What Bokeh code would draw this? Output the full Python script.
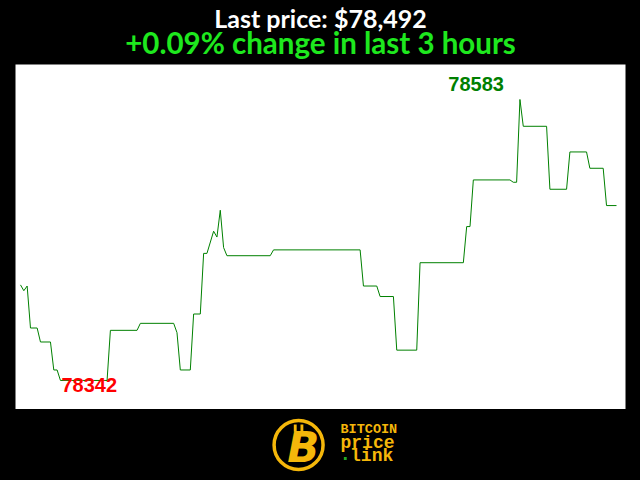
from bokeh.plotting import figure
from bokeh.layouts import column
from bokeh.models import Range1d
from bokeh.core.properties import value
from bokeh.embed import file_html
from bokeh.resources import INLINE

# ---- data (minutes into the 3-hour window, price in USD) ----
minutes = [0, 1, 2, 3, 5, 6, 9, 10, 11, 12, 26, 27, 35, 36, 46, 47, 48, 51, 52, 54,
           55, 56, 58, 59, 60, 61, 62, 75, 76, 102, 103, 107, 108, 112, 113, 119, 120, 133, 134, 135,
           136, 147, 148, 149, 150, 151, 158, 159, 164, 165, 170, 171, 175, 176, 179]
prices = [78424, 78419, 78423, 78387, 78387, 78375, 78375, 78351, 78351, 78342,
          78342, 78385, 78385, 78391, 78391, 78383, 78351, 78351, 78399, 78399,
          78451, 78451, 78470, 78465, 78488, 78456, 78449, 78449, 78454, 78454,
          78423, 78423, 78414, 78414, 78368, 78368, 78443, 78443, 78474, 78474,
          78514, 78514, 78512, 78512, 78583, 78560, 78560, 78506, 78506, 78538,
          78538, 78524, 78524, 78492, 78492]

last_price = prices[-1]
change_pct = (prices[-1] - prices[0]) / prices[0] * 100
title_line1 = "Last price: ${:,}".format(last_price)
title_line2 = "{:+.2f}% change in last 3 hours".format(change_pct)

hi = max(prices)
lo = min(prices)
hi_t = minutes[prices.index(hi)]
lo_t = minutes[prices.index(lo)]

W = 640

def bare(fig):
    fig.axis.visible = False
    fig.grid.visible = False
    fig.outline_line_color = None
    fig.background_fill_color = "black"
    fig.border_fill_color = "black"
    fig.min_border = 0
    return fig

# ---- title block ----
pt = figure(width=W, height=64, x_range=Range1d(0, W), y_range=Range1d(64, 0),
            output_backend="svg", toolbar_location=None)
bare(pt)
pt.text(x=[W / 2], y=[17], text=[title_line1], text_color="white",
        text_font=value("Lato"), text_font_style="bold", text_font_size="25px",
        text_align="center", text_baseline="alphabetic")
pt.text(x=[W / 2], y=[42], text=[title_line2], text_color="#1ee81e",
        text_font=value("Lato"), text_font_style="bold", text_font_size="29.5px",
        text_align="center", text_baseline="alphabetic")

# ---- main chart ----
p = figure(width=W, height=345, x_range=Range1d(-1.5, 181.7), y_range=Range1d(78317.1, 78613),
           output_backend="svg", toolbar_location=None)
bare(p)
p.background_fill_color = "white"
p.min_border_left = 15
p.min_border_right = 15
p.line(minutes, prices, line_color="green", line_width=1)
p.text(x=[hi_t], y=[hi], text=[str(hi)], text_color="green",
       text_font=value("Liberation Sans"), text_font_style="bold", text_font_size="20px",
       text_align="right", text_baseline="alphabetic", x_offset=-16, y_offset=-15)
p.text(x=[lo_t], y=[lo], text=[str(lo)], text_color="red",
       text_font=value("Liberation Sans"), text_font_style="bold", text_font_size="20px",
       text_align="left", text_baseline="alphabetic", x_offset=1, y_offset=5)

# ---- logo block ----
pl = figure(width=W, height=71, x_range=Range1d(0, W), y_range=Range1d(71, 0),
            output_backend="svg", toolbar_location=None)
bare(pl)
gold = "#f5b70a"
pl.scatter(x=[297], y=[35.5], size=49, marker="circle", fill_color=None,
           line_color=gold, line_width=3.5)
pl.quad(left=[292, 299], right=[295, 302], top=[15, 15], bottom=[22, 22],
        fill_color=gold, line_color=None)
pl.text(x=[302], y=[38], text=["B"], text_color=gold,
        text_font=value("DejaVu Sans"), text_font_style="bold italic", text_font_size="42px",
        text_align="center", text_baseline="alphabetic")
pl.text(x=[341], y=[20], text=["BITCOIN"], text_color=gold,
        text_font=value("Liberation Mono"), text_font_style="bold", text_font_size="13.5px",
        text_align="left", text_baseline="alphabetic")
pl.text(x=[341], y=[33], text=["price"], text_color=gold,
        text_font=value("Liberation Mono"), text_font_style="bold", text_font_size="18px",
        text_align="left", text_baseline="alphabetic")
pl.text(x=[351], y=[46.5], text=["link"], text_color=gold,
        text_font=value("Liberation Mono"), text_font_style="bold", text_font_size="18px",
        text_align="left", text_baseline="alphabetic")
pl.quad(left=[344.5], right=[347.5], top=[47.5], bottom=[50.5], fill_color="#22aa22", line_color=None)

layout = column(pt, p, pl, spacing=0)
html = file_html(layout, INLINE)
html = html.replace("<head>", "<head><style>html,body{background:#000;}</style>", 1)
open("out.html", "w").write(html)
